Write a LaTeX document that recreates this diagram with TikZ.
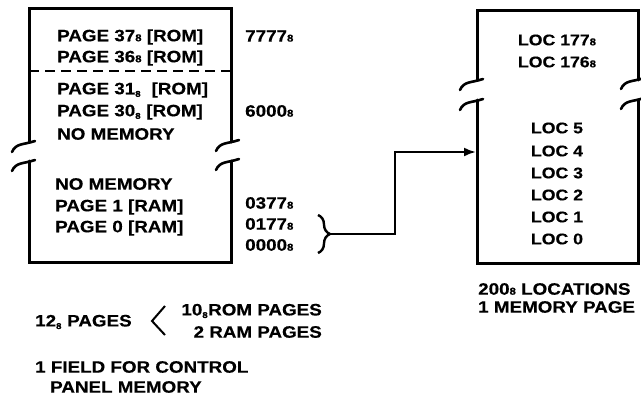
\documentclass[tikz,border=0pt]{standalone}
\usepackage{fontspec}
\setmainfont{Liberation Sans}[BoldFont={* Bold},BoldFeatures={FakeStretch=1.14,FakeBold=0.4}]
\usetikzlibrary{arrows.meta,decorations.pathreplacing}
\newcommand{\oct}{{\fontsize{10}{10}\selectfont 8}}
\newcommand{\octsub}{\textsubscript{\fontsize{8.5}{8.5}\selectfont 8}}
\tikzset{
  txt/.style={font=\fontsize{16.5}{16.5}\selectfont\bfseries, inner sep=0pt},
  loctxt/.style={font=\fontsize{15.5}{15.5}\selectfont\bfseries, inner sep=0pt},
  boxline/.style={line width=3pt, line cap=round},
  brk/.pic={\draw[line width=2.6pt, line cap=round] (-17,9) .. controls (-13,0) and (-6,2) .. (6,-2);},
  conn/.style={line width=2.2pt, -{Latex[length=12pt,width=9pt]}}
}
\begin{document}
\begin{tikzpicture}[x=1pt,y=-1pt]
\useasboundingbox (0,0) rectangle (641,399);
% left box
\draw[boxline] (29,142) -- (29,8) -- (231,8) -- (231,142);
\draw[boxline] (29,161) -- (29,262) -- (231,262) -- (231,161);
\pic at (29,143) {brk};
\pic at (29,162) {brk};
\pic at (233,142) {brk};
\pic at (233,161) {brk};
\draw[line width=1.8pt, dash pattern=on 10pt off 6pt] (29,71) -- (231,71);
% left box text
\node[txt, anchor=west] (p37) at (57,37) {PAGE 37\oct{} [ROM]};
\node[txt, anchor=west] (p36) at (57,58) {PAGE 36\oct{} [ROM]};
\node[txt, anchor=west] (p31) at (57,90) {PAGE 31\octsub{}\ \ [ROM]};
\node[txt, anchor=west] (p30) at (57,112) {PAGE 30\octsub{} [ROM]};
\node[txt, anchor=west] (nm1) at (57,134) {NO MEMORY};
\node[txt, anchor=west] (nm2) at (55,184) {NO MEMORY};
\node[txt, anchor=west] (p1) at (55,207) {PAGE 1 [RAM]};
\node[txt, anchor=west] (p0) at (55,228) {PAGE 0 [RAM]};
% addresses
\node[txt, anchor=west] (a7777) at (245,36) {7777\oct};
\node[txt, anchor=west] (a6000) at (245,111) {6000\oct};
\node[txt, anchor=west] (a0377) at (245,203) {0377\oct};
\node[txt, anchor=west] (a0177) at (245,224) {0177\oct};
\node[txt, anchor=west] (a0000) at (245,245) {0000\oct};
% brace
\draw[line width=2.4pt, decorate, decoration={brace, amplitude=12pt}] (318,215) -- (318,253);
\coordinate (bt) at (331,234);
% right box
\draw[boxline] (477,80) -- (477,10) -- (638,10) -- (638,80);
\draw[boxline] (477,100) -- (477,263) -- (638,263) -- (638,100);
\pic at (477,81) {brk};
\pic at (477,101) {brk};
\pic at (638,80) {brk};
\pic at (638,100) {brk};
\coordinate (ain) at (476,152);
\draw[conn] (bt) -- (395,234) |- (ain);
% right box text
\node[loctxt] (l177) at (557,40) {LOC 177\oct};
\node[loctxt] (l176) at (557,62) {LOC 176\oct};
\node[loctxt] (l5) at (557,128) {LOC 5};
\node[loctxt] (l4) at (557,151) {LOC 4};
\node[loctxt] (l3) at (557,173) {LOC 3};
\node[loctxt] (l2) at (557,195) {LOC 2};
\node[loctxt] (l1) at (557,217) {LOC 1};
\node[loctxt] (l0) at (557,239) {LOC 0};
% bottom labels
\node[txt, anchor=west] (loc200) at (478,289) {200\oct{} LOCATIONS};
\node[txt, anchor=west] (onepage) at (478,307) {1 MEMORY PAGE};
\node[txt, anchor=west] (p12) at (35,322) {12\octsub{} PAGES};
\draw[line width=2pt] (165,306) -- (152,321) -- (165,335);
\node[txt, anchor=east] (rom10) at (322,311) {10\octsub{}ROM PAGES};
\node[txt, anchor=east] (ram2) at (322,332) {2 RAM PAGES};
\node[txt, anchor=west] (field) at (35,367) {1 FIELD FOR CONTROL};
\node[txt, anchor=west] (panel) at (50,387) {PANEL MEMORY};
\end{tikzpicture}
\end{document}
